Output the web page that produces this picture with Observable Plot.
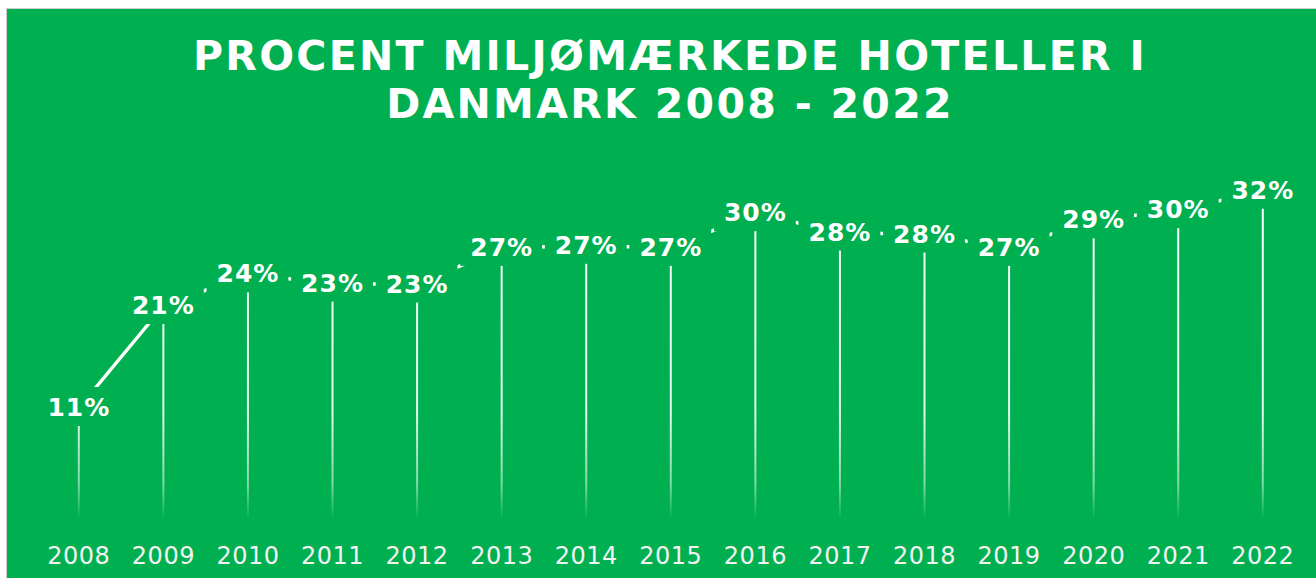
<!DOCTYPE html>
<html><head><meta charset="utf-8">
<script src="https://cdn.jsdelivr.net/npm/d3@7"></script>
<script src="https://cdn.jsdelivr.net/npm/@observablehq/plot@0.6"></script>
<style>
html,body{margin:0;padding:0;background:#fff;overflow:hidden;width:1316px;height:578px}
#frame{position:absolute;left:6px;top:8px;width:1326px;height:600px;border:1px solid #d0d0d0;background:#00B050;}
#title{position:absolute;left:0;top:23px;width:1326px;text-align:center;color:#fff;font-family:"DejaVu Sans",sans-serif;font-weight:bold;font-size:41px;line-height:48px;letter-spacing:2.3px;}
#chart{position:absolute;left:0;top:119px}
</style></head><body>
<div id="frame"><div id="title">PROCENT MILJØMÆRKEDE HOTELLER I<br>DANMARK 2008 - 2022</div><div id="chart"></div></div>
<script>
const years = ["2008","2009","2010","2011","2012","2013","2014","2015","2016","2017","2018","2019","2020","2021","2022"];
const values = [11, 21, 24.1, 23.2, 23.1, 26.7, 26.9, 26.7, 30.1, 28.2, 28.0, 26.7, 29.4, 30.4, 32.3];
const labels = ["11%","21%","24%","23%","23%","27%","27%","27%","30%","28%","28%","27%","29%","30%","32%"];
const data = years.map((year, i) => ({year, value: values[i], label: labels[i]}));
const GREEN = "#00B050";

const plot = Plot.plot({
  width: 1316, height: 450,
  marginLeft: 71.3, marginRight: 60.7, marginTop: 34.7, marginBottom: 58.3,
  style: {background: "transparent", color: "#fff", fontFamily: "DejaVu Sans, sans-serif", overflow: "visible"},
  x: {type: "point", domain: years, padding: 0, round: false, label: null},
  y: {domain: [0, 35], axis: null},
  marks: [
    Plot.axisX({tickSize: 0, tickPadding: 27, fontSize: 24, fill: "#F2F2F2", label: null}),
    Plot.ruleX(data, {x: "year", y1: 0, y2: "value", stroke: "url(#fade)", strokeWidth: 2}),
    Plot.line(data, {x: "year", y: "value", stroke: "#fff", strokeWidth: 3.5}),
    Plot.text(data, {x: "year", y: "value", text: "label", fill: "#fff", fontSize: 25, fontWeight: "bold"})
  ]
});
document.getElementById("chart").appendChild(plot);

const svg = d3.select(plot);
const ys = plot.scale("y");
const grad = svg.insert("defs", ":first-child").append("linearGradient")
  .attr("id", "fade").attr("gradientUnits", "userSpaceOnUse")
  .attr("x1", 0).attr("x2", 0).attr("y1", ys.apply(35)).attr("y2", ys.apply(0));
[[0, 1], [0.7, 0.9], [0.9, 0.5], [1, 0]].forEach(([o, a]) =>
  grad.append("stop").attr("offset", o).attr("stop-color", "#fff").attr("stop-opacity", a));

svg.selectAll('g[aria-label="x-axis tick label"] text').style("letter-spacing", "0.5px").attr("font-size", 24);

const tg = plot.querySelector('g[aria-label="text"]');
const ns = "http://www.w3.org/2000/svg";
const rg = document.createElementNS(ns, "g");
if (tg.getAttribute("transform")) rg.setAttribute("transform", tg.getAttribute("transform"));
tg.parentNode.insertBefore(rg, tg);
tg.querySelectorAll("text").forEach(t => {
  t.style.letterSpacing = "1px";
  const b = t.getBBox();
  const r = document.createElementNS(ns, "rect");
  r.setAttribute("x", b.x - 10);
  r.setAttribute("y", b.y - 6);
  r.setAttribute("width", b.width + 19);
  r.setAttribute("height", b.height + 10);
  r.setAttribute("fill", GREEN);
  if (t.getAttribute("transform")) r.setAttribute("transform", t.getAttribute("transform"));
  rg.appendChild(r);
});
</script>
</body></html>
